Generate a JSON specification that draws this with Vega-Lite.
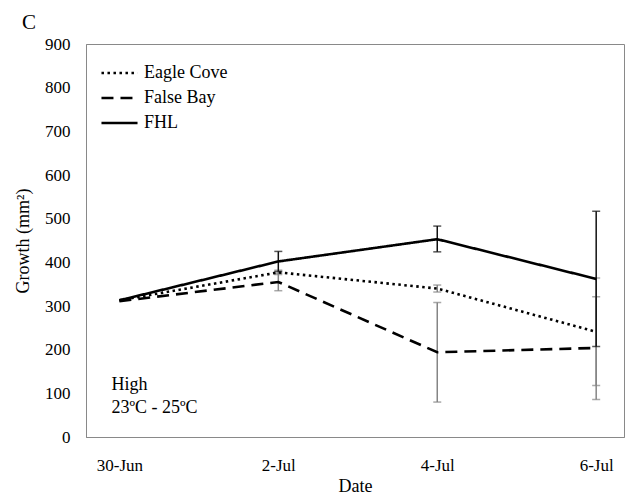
{
  "$schema": "https://vega.github.io/schema/vega-lite/v6.json",
  "width": 538,
  "height": 393,
  "autosize": {"type": "none"},
  "padding": {"left": 86, "top": 44, "right": 1, "bottom": 59},
  "background": "white",
  "config": {
    "font": "Liberation Serif",
    "view": {"stroke": "#898989", "strokeWidth": 1},
    "axis": {"labelFont": "Liberation Serif", "titleFont": "Liberation Serif", "labelColor": "black", "titleColor": "black", "titleFontWeight": "normal", "grid": false, "ticks": false, "domainColor": "#898989"},
    "legend": {"labelFont": "Liberation Serif"}
  },
  "title": {"text": "C", "anchor": "start", "frame": "group", "dx": -64, "offset": 2, "fontSize": 21, "fontWeight": "normal", "font": "Liberation Serif", "color": "black"},
  "datasets": {
    "series": [
      {"site": "Eagle Cove", "date": "30-Jun", "day": 0, "growth": 313},
      {"site": "Eagle Cove", "date": "2-Jul", "day": 2, "growth": 377, "lo": 372, "hi": 382},
      {"site": "Eagle Cove", "date": "4-Jul", "day": 4, "growth": 340, "lo": 332, "hi": 348},
      {"site": "Eagle Cove", "date": "6-Jul", "day": 6, "growth": 241, "lo": 118, "hi": 364},
      {"site": "False Bay", "date": "30-Jun", "day": 0, "growth": 311},
      {"site": "False Bay", "date": "2-Jul", "day": 2, "growth": 355, "lo": 335, "hi": 375},
      {"site": "False Bay", "date": "4-Jul", "day": 4, "growth": 194, "lo": 80, "hi": 308},
      {"site": "False Bay", "date": "6-Jul", "day": 6, "growth": 204, "lo": 86, "hi": 321},
      {"site": "FHL", "date": "30-Jun", "day": 0, "growth": 313},
      {"site": "FHL", "date": "2-Jul", "day": 2, "growth": 402, "lo": 379, "hi": 425},
      {"site": "FHL", "date": "4-Jul", "day": 4, "growth": 453, "lo": 424, "hi": 483},
      {"site": "FHL", "date": "6-Jul", "day": 6, "growth": 362, "lo": 207, "hi": 517}
    ],
    "notes": [
      {"note": "High", "day": -0.1, "growth": 108},
      {"note": "23ºC - 25ºC", "day": -0.1, "growth": 55}
    ]
  },
  "layer": [
    {
      "data": {"name": "series"},
      "transform": [{"filter": "datum.lo != null && datum.site != 'FHL'"}],
      "mark": {"type": "rule", "strokeWidth": 1.5, "color": "#858585"},
      "encoding": {
        "x": {"field": "day", "type": "quantitative"},
        "y": {"field": "lo", "type": "quantitative"},
        "y2": {"field": "hi"}
      }
    },
    {
      "data": {"name": "series"},
      "transform": [{"filter": "datum.lo != null && datum.site != 'FHL'"}],
      "mark": {"type": "tick", "orient": "horizontal", "size": 8, "thickness": 1.5, "color": "#858585"},
      "encoding": {
        "x": {"field": "day", "type": "quantitative"},
        "y": {"field": "lo", "type": "quantitative"}
      }
    },
    {
      "data": {"name": "series"},
      "transform": [{"filter": "datum.lo != null && datum.site != 'FHL'"}],
      "mark": {"type": "tick", "orient": "horizontal", "size": 8, "thickness": 1.5, "color": "#858585"},
      "encoding": {
        "x": {"field": "day", "type": "quantitative"},
        "y": {"field": "hi", "type": "quantitative"}
      }
    },
    {
      "data": {"name": "series"},
      "transform": [{"filter": "datum.lo != null && datum.site == 'FHL'"}],
      "mark": {"type": "rule", "strokeWidth": 1.5, "color": "#111111"},
      "encoding": {
        "x": {"field": "day", "type": "quantitative"},
        "y": {"field": "lo", "type": "quantitative"},
        "y2": {"field": "hi"}
      }
    },
    {
      "data": {"name": "series"},
      "transform": [{"filter": "datum.lo != null && datum.site == 'FHL'"}],
      "mark": {"type": "tick", "orient": "horizontal", "size": 8, "thickness": 1.5, "color": "#111111"},
      "encoding": {
        "x": {"field": "day", "type": "quantitative"},
        "y": {"field": "lo", "type": "quantitative"}
      }
    },
    {
      "data": {"name": "series"},
      "transform": [{"filter": "datum.lo != null && datum.site == 'FHL'"}],
      "mark": {"type": "tick", "orient": "horizontal", "size": 8, "thickness": 1.5, "color": "#111111"},
      "encoding": {
        "x": {"field": "day", "type": "quantitative"},
        "y": {"field": "hi", "type": "quantitative"}
      }
    },
    {
      "data": {"name": "series"},
      "mark": {"type": "line", "color": "black", "strokeWidth": 2.6},
      "encoding": {
        "x": {
          "field": "day", "type": "quantitative",
          "scale": {"domain": [-0.42, 6.35], "nice": false, "zero": false},
          "axis": {"values": [0, 2, 4, 6], "labelExpr": "['30-Jun','1-Jul','2-Jul','3-Jul','4-Jul','5-Jul','6-Jul'][datum.value]", "title": "Date", "labelFontSize": 17, "titleFontSize": 18, "labelPadding": 20, "titlePadding": 4}
        },
        "y": {
          "field": "growth", "type": "quantitative",
          "scale": {"domain": [0, 900], "nice": false},
          "axis": {"values": [0, 100, 200, 300, 400, 500, 600, 700, 800, 900], "title": "Growth (mm²)", "labelFontSize": 17, "titleFontSize": 18, "labelPadding": 16, "titlePadding": 12}
        },
        "strokeDash": {
          "field": "site", "type": "nominal",
          "scale": {"domain": ["Eagle Cove", "False Bay", "FHL"], "range": [[2.5, 3.5], [12, 7], [1, 0]]},
          "legend": {"title": null, "orient": "none", "legendX": 14, "legendY": 19, "symbolType": "stroke", "symbolSize": 1300, "symbolStrokeColor": "black", "symbolStrokeWidth": 2.6, "labelFontSize": 18, "labelFont": "Liberation Serif", "labelColor": "black", "labelOffset": 5, "clipHeight": 20, "rowPadding": 5}
        }
      }
    },
    {
      "data": {"name": "notes"},
      "mark": {"type": "text", "align": "left", "baseline": "alphabetic", "fontSize": 18, "font": "Liberation Serif", "color": "black"},
      "encoding": {
        "x": {"field": "day", "type": "quantitative"},
        "y": {"field": "growth", "type": "quantitative"},
        "text": {"field": "note"}
      }
    }
  ]
}
